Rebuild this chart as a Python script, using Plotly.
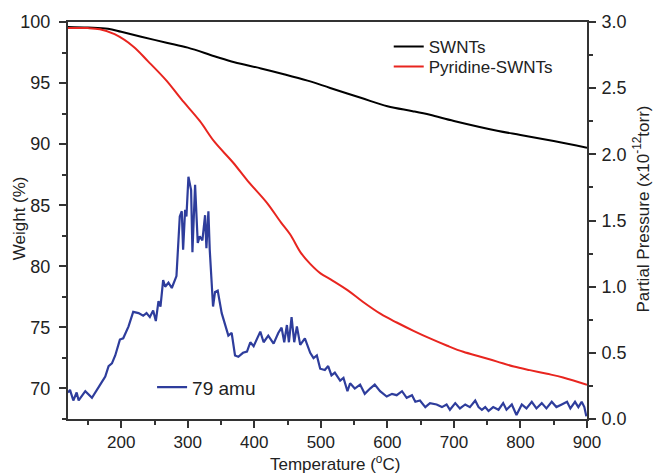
import plotly.graph_objects as go

# ---- data ----
swnt_T = [120, 150, 180, 200, 230, 268, 300, 340, 370, 410, 443, 480, 514, 560, 600, 638, 664, 700, 765, 800, 850, 900]
swnt_W = [99.6, 99.55, 99.45, 99.2, 98.8, 98.3, 97.9, 97.2, 96.7, 96.2, 95.75, 95.2, 94.6, 93.8, 93.1, 92.7, 92.4, 91.9, 91.1, 90.75, 90.25, 89.7]

pyr_T = [120, 150, 168, 190, 218, 240, 268, 290, 318, 340, 368, 390, 419, 440, 454, 470, 484, 500, 514, 540, 563, 590, 614, 640, 664, 690, 714, 740, 765, 790, 814, 840, 864, 900]
pyr_W = [99.5, 99.5, 99.4, 99.0, 98.0, 96.8, 95.2, 93.7, 91.9, 90.2, 88.5, 87.0, 85.2, 83.6, 82.6, 81.1, 80.2, 79.4, 78.95, 78.05, 77.1, 76.1, 75.4, 74.7, 74.1, 73.5, 73.0, 72.6, 72.2, 71.8, 71.5, 71.2, 70.9, 70.3]

amu_T = [120, 123, 128, 133, 136, 146, 156, 163, 171, 176, 181, 186, 191, 198, 203, 211, 218, 226, 233, 238,
         243, 248, 252, 256, 259, 263, 266, 271, 276, 283, 288, 291, 293, 296, 298, 301, 305, 307, 311, 315,
         318, 322, 326, 328, 331, 333, 338, 341, 345, 351, 356, 361, 366, 371, 376, 383, 389, 394, 399, 409,
         414, 421, 429, 436, 441, 445, 449, 452, 456, 460, 464, 469, 476, 484, 489, 494, 499, 506, 511, 516,
         521, 529, 534, 540, 544, 551, 559, 566, 574, 581, 589, 599, 607, 614, 622, 629, 637, 642, 649, 657,
         664, 674, 682, 689, 694, 702, 709, 717, 724, 732, 737, 742, 747, 752, 759, 767, 774, 779, 787, 794,
         802, 809, 817, 824, 832, 839, 847, 854, 862, 870, 875, 882, 887, 892, 896, 899]
amu_P = [0.20, 0.22, 0.14, 0.20, 0.14, 0.21, 0.16, 0.22, 0.28, 0.32, 0.40, 0.42, 0.48, 0.60, 0.61, 0.70, 0.81, 0.80, 0.78, 0.80,
         0.77, 0.82, 0.74, 0.89, 0.85, 1.05, 1.00, 1.03, 0.99, 1.08, 1.53, 1.57, 1.28, 1.58, 1.53, 1.83, 1.73, 1.26, 1.77, 1.33,
         1.38, 1.35, 1.54, 1.29, 1.57, 1.28, 0.85, 0.96, 0.97, 0.80, 0.72, 0.63, 0.65, 0.48, 0.47, 0.50, 0.51, 0.58, 0.55, 0.66,
         0.58, 0.63, 0.57, 0.65, 0.69, 0.58, 0.71, 0.58, 0.77, 0.58, 0.70, 0.56, 0.61, 0.50, 0.46, 0.48, 0.38, 0.37, 0.40, 0.33,
         0.35, 0.29, 0.31, 0.21, 0.27, 0.23, 0.26, 0.19, 0.23, 0.26, 0.21, 0.17, 0.19, 0.18, 0.21, 0.16, 0.18, 0.13, 0.14, 0.09,
         0.12, 0.11, 0.09, 0.11, 0.07, 0.12, 0.08, 0.11, 0.09, 0.14, 0.09, 0.07, 0.09, 0.06, 0.09, 0.07, 0.12, 0.07, 0.11, 0.03,
         0.11, 0.08, 0.13, 0.08, 0.12, 0.08, 0.13, 0.09, 0.11, 0.13, 0.08, 0.13, 0.09, 0.13, 0.09, 0.02]

FONT = "Liberation Sans, Arial, sans-serif"
AX = "#333333"

fig = go.Figure()
fig.add_trace(go.Scatter(x=swnt_T, y=swnt_W, mode="lines", name="SWNTs", showlegend=True,
                         line=dict(color="#000000", width=2, shape="spline"), legend="legend"))
fig.add_trace(go.Scatter(x=pyr_T, y=pyr_W, mode="lines", name="Pyridine-SWNTs", showlegend=True,
                         line=dict(color="#e8251f", width=2, shape="spline"), legend="legend3"))
fig.add_trace(go.Scatter(x=amu_T, y=amu_P, mode="lines", name="79 amu", yaxis="y2", showlegend=True,
                         line=dict(color="#2e3d9c", width=2.2), legend="legend2"))

axcommon = dict(showline=True, linecolor=AX, linewidth=2, ticks="outside", tickcolor=AX,
                tickwidth=1.5, ticklen=7, showgrid=False, zeroline=False)
tfont = dict(family=FONT, size=18, color="#222222")

legfont = dict(family=FONT, size=17, color="#222222")

fig.update_layout(
    width=653, height=474,
    showlegend=True,
    margin=dict(l=68, r=66, t=22, b=55, autoexpand=False),
    paper_bgcolor="white", plot_bgcolor="white",
    font=dict(family=FONT, color="#222222"),
    xaxis=dict(range=[120, 900], tick0=100, dtick=100, mirror=True, ticklabelstandoff=0,
               tickfont=dict(family=FONT, size=17, color="#222222"),
               minor=dict(dtick=50, ticks="outside", ticklen=4, tickcolor=AX, tickwidth=1.5),
               **axcommon),
    yaxis=dict(range=[67.5, 100], tick0=0, dtick=5, ticklabelstandoff=5, tickfont=tfont,
               minor=dict(dtick=2.5, ticks="outside", ticklen=4, tickcolor=AX, tickwidth=1.5),
               **axcommon),
    yaxis2=dict(range=[0, 3.0], tick0=0, dtick=0.5, tickformat=".1f", overlaying="y", side="right",
                ticklabelstandoff=2, tickfont=tfont,
                minor=dict(dtick=0.25, ticks="outside", ticklen=4, tickcolor=AX, tickwidth=1.5),
                **axcommon),
    legend=dict(x=0.618, y=0.937, xanchor="left", yanchor="middle", bgcolor="rgba(0,0,0,0)",
                font=legfont, visible=True),
    legend3=dict(x=0.618, y=0.887, xanchor="left", yanchor="middle", bgcolor="rgba(0,0,0,0)",
                 font=legfont, visible=True),
    legend2=dict(x=0.162, y=0.08, xanchor="left", yanchor="middle", bgcolor="rgba(0,0,0,0)",
                 font=dict(family=FONT, size=19, color="#222222"), visible=True),
    annotations=[
        dict(text="Temperature (<sup>o</sup>C)", xref="paper", yref="paper", x=0.515, y=-0.11,
             xanchor="center", yanchor="middle", showarrow=False, font=dict(family=FONT, size=17)),
        dict(text="Weight (%)", xref="paper", yref="paper", x=-0.093, y=0.505,
             xanchor="center", yanchor="middle", textangle=-90, showarrow=False, font=dict(family=FONT, size=17)),
        dict(text="Partial Pressure (x10<sup>-12</sup>torr)", xref="paper", yref="paper", x=1.104, y=0.53,
             xanchor="center", yanchor="middle", textangle=-90, showarrow=False, font=dict(family=FONT, size=17)),
    ],
)

fig.write_html("out.html")
